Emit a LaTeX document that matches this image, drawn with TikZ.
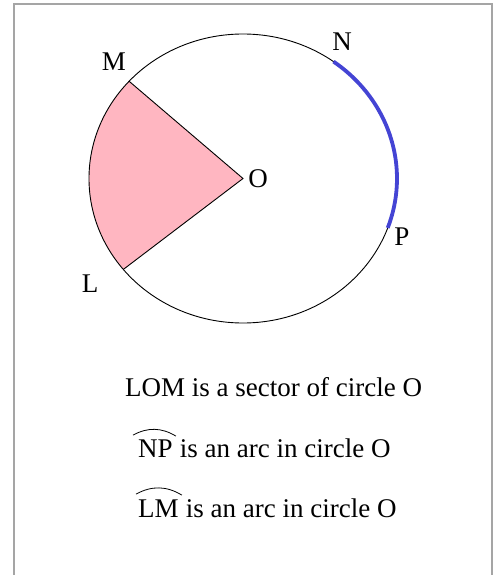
\documentclass[tikz,border=0pt]{standalone}
\usepackage{fontspec}
\setmainfont{Liberation Serif}
\usetikzlibrary{positioning}
\definecolor{sectorpink}{RGB}{255,182,193}
\definecolor{arcblue}{RGB}{68,68,212}
\definecolor{framegray}{RGB}{165,165,165}

\begin{document}
\begin{tikzpicture}[x=1pt,y=-1pt,
  lbl/.style={inner sep=0pt,font=\fontsize{27}{32}\selectfont},
  txt/.style={lbl,anchor=base west}]
  \useasboundingbox (0,0) rectangle (496,575);
  % frame
  \draw[framegray,line width=2pt] (14,575) -- (14,4) -- (492,4) -- (492,575);
  % points on the circle
  \coordinate (o) at (243,178.5);
  \coordinate (m) at ({243+154*cos(137.7)},{178.5-144.5*sin(137.7)});
  \coordinate (l) at ({243+154*cos(219)},{178.5-144.5*sin(219)});
  % sector
  \fill[sectorpink] (o) -- plot[domain=137.7:219,samples=40]
    ({243+154*cos(\x)},{178.5-144.5*sin(\x)}) -- cycle;
  \draw[line width=0.9pt] (m) -- (o) -- (l);
  % circle
  \draw[line width=0.9pt] (o) ellipse[x radius=154,y radius=144.5];
  % arc NP
  \draw[arcblue,line width=3.8pt] plot[domain=54:-20,samples=40]
    ({243+154*cos(\x)},{178.5-144.5*sin(\x)});
  % labels
  \node[lbl] (labm) at (114,62)  {M};
  \node[lbl] (labn) at (342,42)  {N};
  \node[lbl] (labo) at (258,179) {O};
  \node[lbl] (labp) at (402,237) {P};
  \node[lbl] (labl) at (90,284)  {L};
  % statements
  \node[txt] (lom) at (125,396) {LOM is a sector of circle O};
  \node[txt] (np) at (138,457) {NP};
  \node[txt] (nparc) at (np.base east) {\ is an arc in circle O};
  \node[txt] (lm) at (138,517) {LM};
  \node[txt] (lmarc) at (lm.base east) {\ is an arc in circle O};
  % arc marks
  \coordinate (npa) at ([shift={(-5,-4)}]np.north west);
  \coordinate (npb) at ([shift={(3,-3)}]np.north east);
  \draw[line width=0.8pt] (npa) to[bend left=30] (npb);
  \coordinate (lma) at ([shift={(-2,-5)}]lm.north west);
  \coordinate (lmb) at ([shift={(3,-4)}]lm.north east);
  \draw[line width=0.8pt] (lma) to[bend left=30] (lmb);
\end{tikzpicture}
\end{document}
